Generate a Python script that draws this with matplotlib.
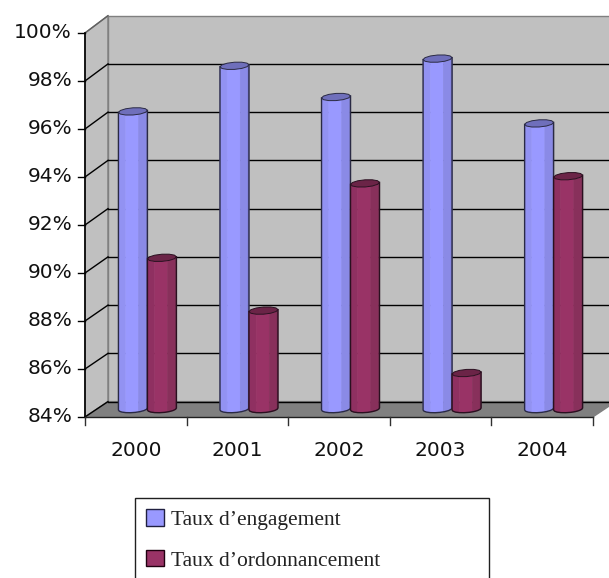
import matplotlib
matplotlib.use("Agg")
import matplotlib.pyplot as plt
from matplotlib.patches import Polygon, Patch
import numpy as np

years = ["2000", "2001", "2002", "2003", "2004"]
engagement = [96.4, 98.3, 97.0, 98.6, 95.9]
ordonnancement = [90.3, 88.1, 93.4, 85.5, 93.7]
y_ticks = [84, 86, 88, 90, 92, 94, 96, 98, 100]

blues = ["#9292f2", "#9999ff", "#8a8ae6", "#7c7cd0"]
blue_top = "#6f6fbb"
reds = ["#8f3061", "#993366", "#88305b", "#7a2b50"]
red_top = "#6b2447"

W, H = 609, 578
# pixel positions of the front axis, everything else goes through data coords
x0_px, x_step = 85, 101.55
y0_px, y_step = 417, 24
dx = 23 / x_step  # depth of the box
dy = 16 / y_step


def back(v):
    # the back wall is a touch taller than the front axis
    return v + (15.4 + (v - 84) * 0.12) / y_step


fig = plt.figure(figsize=(W / 100, H / 100), dpi=100)
ax = fig.add_axes([0, 0, 1, 1])
ax.set_xlim(-x0_px / x_step, (W - x0_px) / x_step)
ax.set_ylim(84 - (H - y0_px) / y_step, 84 + y0_px / y_step)
ax.axis("off")

n = len(years)
# walls and floor
ax.add_patch(Polygon([(0, 84), (dx, back(84)), (dx, back(100)), (0, 100)], fc="#c0c0c0", ec="#808080", lw=1))
ax.add_patch(Polygon([(dx, back(84)), (n + dx, back(84)), (n + dx, back(100)), (dx, back(100))], fc="#c0c0c0", ec="#808080", lw=1))
ax.add_patch(Polygon([(0, 84), (n, 84), (n + dx, back(84)), (dx, back(84))], fc="#808080", ec="#808080", lw=1))

# grid lines
for v in y_ticks[:-1]:
    ax.plot([dx, n + dx], [back(v), back(v)], color="black", lw=1)
for v in y_ticks:
    ax.plot([0, dx], [v, back(v)], color="black" if v < 100 else "#606060", lw=1)
    ax.plot([-7 / x_step, 0], [v, v], color="black", lw=1)
    ax.text(-13 / x_step, v, f"{v}%", ha="right", va="center", fontsize=14.5, color="#111111")
ax.plot([0, 0], [84, 100], color="black", lw=1.2)
ax.plot([0, n], [84, 84], color="#202020", lw=1)
for i in range(n + 1):
    ax.plot([i, i], [84, 84 - 8 / y_step], color="#303030", lw=1)
for i, year in enumerate(years):
    ax.text(i + 0.5, 84 - 33 / y_step, year, ha="center", va="center", fontsize=14.5, color="#111111")

bar_w = 29 / x_step
rx = bar_w / 2
ry = 3.6 / y_step
skew = 1 / y_step
edges = [0, 0.33, 0.63, 0.88, 1]


def arc(cx, level, a, b, pts=6):
    # front half of the skewed ellipse, a and b are fractions of the width
    t = np.pi * (1 - np.linspace(a, b, pts))
    return np.column_stack([cx + rx * np.cos(t), level - ry * np.sin(t) + skew * np.cos(t)])


def cylinder(cx, value, colors, top, edge):
    base = 84 + dy / 2
    level = value + dy / 2
    for k in range(4):
        low = arc(cx, base, edges[k], edges[k + 1])
        high = arc(cx, level, edges[k], edges[k + 1])
        ax.add_patch(Polygon(np.vstack([low, high[::-1]]), fc=colors[k], ec=colors[k], lw=0.4, zorder=3))
    t = np.linspace(0, 2 * np.pi, 13)
    ring = np.column_stack([cx + rx * np.cos(t), level + ry * np.sin(t) + skew * np.cos(t)])
    ax.add_patch(Polygon(ring, fc=top, ec=edge, lw=0.7, zorder=3))
    low = arc(cx, base, 0, 1, 10)
    high = arc(cx, level, 0, 1, 2)
    outline = np.vstack([high[:1], low, high[1:]])
    ax.plot(outline[:, 0], outline[:, 1], color=edge, lw=1, zorder=3)


for i in range(n):
    cylinder(i + 0.472, engagement[i], blues, blue_top, "#2a2a44")
    cylinder(i + 0.472 + bar_w, ordonnancement[i], reds, red_top, "#2a1020")

handles = [Patch(fc="#9999ff", ec="#202040", lw=1), Patch(fc="#993366", ec="#200010", lw=1)]
ax.legend(handles, ["Taux d\u2019engagement", "Taux d\u2019ordonnancement"],
          loc="upper left", bbox_to_anchor=(134.5 / W, 1 - 497.5 / H, 354.5 / W, 0),
          mode="expand", fancybox=False, framealpha=1, edgecolor="#202020",
          prop={"family": "Liberation Serif", "size": 15.5}, handlelength=0.8,
          handleheight=0.8, labelspacing=0.92, handletextpad=0.33, borderpad=0.55,
          labelcolor="#222222", borderaxespad=0)

fig.savefig("out.png", dpi=100)
